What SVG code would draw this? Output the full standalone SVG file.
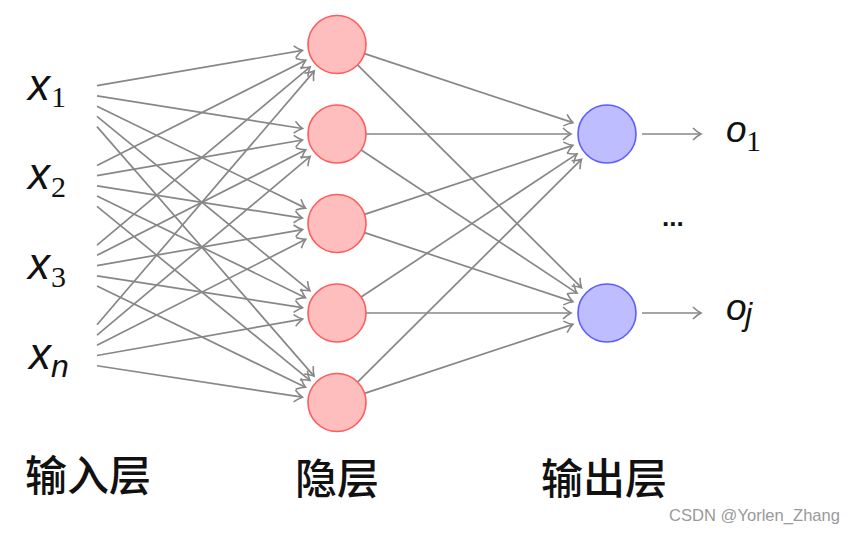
<svg xmlns="http://www.w3.org/2000/svg" width="856" height="533" viewBox="0 0 856 533">
<style>
.edge{fill:none;stroke:#878787;stroke-width:1.7;marker-end:url(#arr)}
.hid{fill:#ffbebe;stroke:#ff5c5c;stroke-width:1.6}
.out{fill:#bdbdff;stroke:#5c5cff;stroke-width:1.6}
.mx{font-family:"Liberation Sans",Arial,sans-serif;font-style:italic;fill:#111}
.sub{font-family:"Liberation Serif","Times New Roman",serif;font-size:30px;fill:#111}
.cn{font-family:"Noto Sans CJK SC","Noto Sans",sans-serif;font-size:42px;font-weight:500;fill:#111}
</style>
<defs>
<marker id="arr" markerUnits="userSpaceOnUse" viewBox="0 0 12 14" markerWidth="12" markerHeight="14" refX="10" refY="7" orient="auto">
<path d="M2,1 C5,4 8,6 10,7 C8,8 5,10 2,13" fill="none" stroke="#878787" stroke-width="1.6"/>
</marker>
</defs>
<rect width="856" height="533" fill="#fff"/>
<g id="connectors">
<line class="edge" x1="97" y1="85.68" x2="302.50" y2="50.42"/>
<line class="edge" x1="97" y1="95.92" x2="302.43" y2="128.52"/>
<line class="edge" x1="97" y1="106.16" x2="305.56" y2="208.13"/>
<line class="edge" x1="97" y1="116.39" x2="309.92" y2="290.82"/>
<line class="edge" x1="97" y1="126.63" x2="314.03" y2="376.09"/>
<line class="edge" x1="97" y1="165.39" x2="305.74" y2="60.24"/>
<line class="edge" x1="97" y1="175.62" x2="302.52" y2="139.98"/>
<line class="edge" x1="97" y1="185.86" x2="302.42" y2="218.08"/>
<line class="edge" x1="97" y1="196.10" x2="305.53" y2="297.67"/>
<line class="edge" x1="97" y1="206.34" x2="309.90" y2="380.35"/>
<line class="edge" x1="97" y1="245.09" x2="310.14" y2="66.95"/>
<line class="edge" x1="97" y1="255.33" x2="305.76" y2="149.79"/>
<line class="edge" x1="97" y1="265.57" x2="302.53" y2="229.54"/>
<line class="edge" x1="97" y1="275.80" x2="302.41" y2="307.64"/>
<line class="edge" x1="97" y1="286.04" x2="305.51" y2="387.22"/>
<line class="edge" x1="97" y1="324.80" x2="314.24" y2="71.09"/>
<line class="edge" x1="97" y1="335.03" x2="310.17" y2="156.47"/>
<line class="edge" x1="97" y1="345.27" x2="305.79" y2="239.34"/>
<line class="edge" x1="97" y1="355.51" x2="302.54" y2="319.10"/>
<line class="edge" x1="97" y1="365.75" x2="302.40" y2="397.20"/>
<line class="edge" x1="364.53" y1="53.62" x2="572.83" y2="122.67"/>
<line class="edge" x1="366" y1="134" x2="571" y2="134"/>
<line class="edge" x1="364.53" y1="214.38" x2="572.83" y2="145.33"/>
<line class="edge" x1="361.17" y1="296.98" x2="577.00" y2="153.89"/>
<line class="edge" x1="357.56" y1="382.05" x2="581.47" y2="159.38"/>
<line class="edge" x1="357.56" y1="64.95" x2="581.47" y2="287.62"/>
<line class="edge" x1="361.17" y1="150.02" x2="577.00" y2="293.11"/>
<line class="edge" x1="364.53" y1="232.62" x2="572.83" y2="301.67"/>
<line class="edge" x1="366" y1="313" x2="571" y2="313"/>
<line class="edge" x1="364.53" y1="393.38" x2="572.83" y2="324.33"/>
<line class="edge" x1="642" y1="134" x2="701" y2="134"/>
<line class="edge" x1="642" y1="313" x2="701" y2="313"/>
</g>
<g id="in1"><text class="mx" x="28" y="100" font-size="44">x</text><text class="sub" x="51" y="107">1</text></g>
<g id="in2"><text class="mx" x="28" y="189" font-size="44">x</text><text class="sub" x="51" y="197">2</text></g>
<g id="in3"><text class="mx" x="28" y="279" font-size="44">x</text><text class="sub" x="51" y="287">3</text></g>
<g id="inn"><text class="mx" x="29" y="369" font-size="44">x</text><text class="mx" x="51" y="377" font-size="32">n</text></g>
<g id="h1"><circle class="hid" cx="337" cy="44.5" r="29"/></g>
<g id="h2"><circle class="hid" cx="337" cy="134" r="29"/></g>
<g id="h3"><circle class="hid" cx="337" cy="223.5" r="29"/></g>
<g id="h4"><circle class="hid" cx="337" cy="313" r="29"/></g>
<g id="h5"><circle class="hid" cx="337" cy="402.5" r="29"/></g>
<g id="o1"><circle class="out" cx="607" cy="134" r="29"/></g>
<g id="oj"><circle class="out" cx="607" cy="313" r="29"/></g>
<g id="olabel1"><text class="mx" x="726" y="142" font-size="37">o</text><text class="sub" x="746" y="151">1</text></g>
<g id="olabelj"><text class="mx" x="726" y="320" font-size="37">o</text><text class="mx" x="745" y="325" font-size="32">j</text></g>
<g id="dots"><text x="662" y="226" font-family="Liberation Sans,Arial,sans-serif" font-weight="bold" font-size="26" fill="#111">...</text></g>
<g id="layer-labels">
<text class="cn" x="25" y="491">输入层</text>
<text class="cn" x="295" y="494">隐层</text>
<text class="cn" x="541" y="494">输出层</text>
</g>
<text x="669" y="521" font-family="Liberation Sans Narrow,Liberation Sans,Arial,sans-serif" font-size="17" fill="#9a9a9a" textLength="171" lengthAdjust="spacingAndGlyphs">CSDN @Yorlen_Zhang</text>
</svg>
